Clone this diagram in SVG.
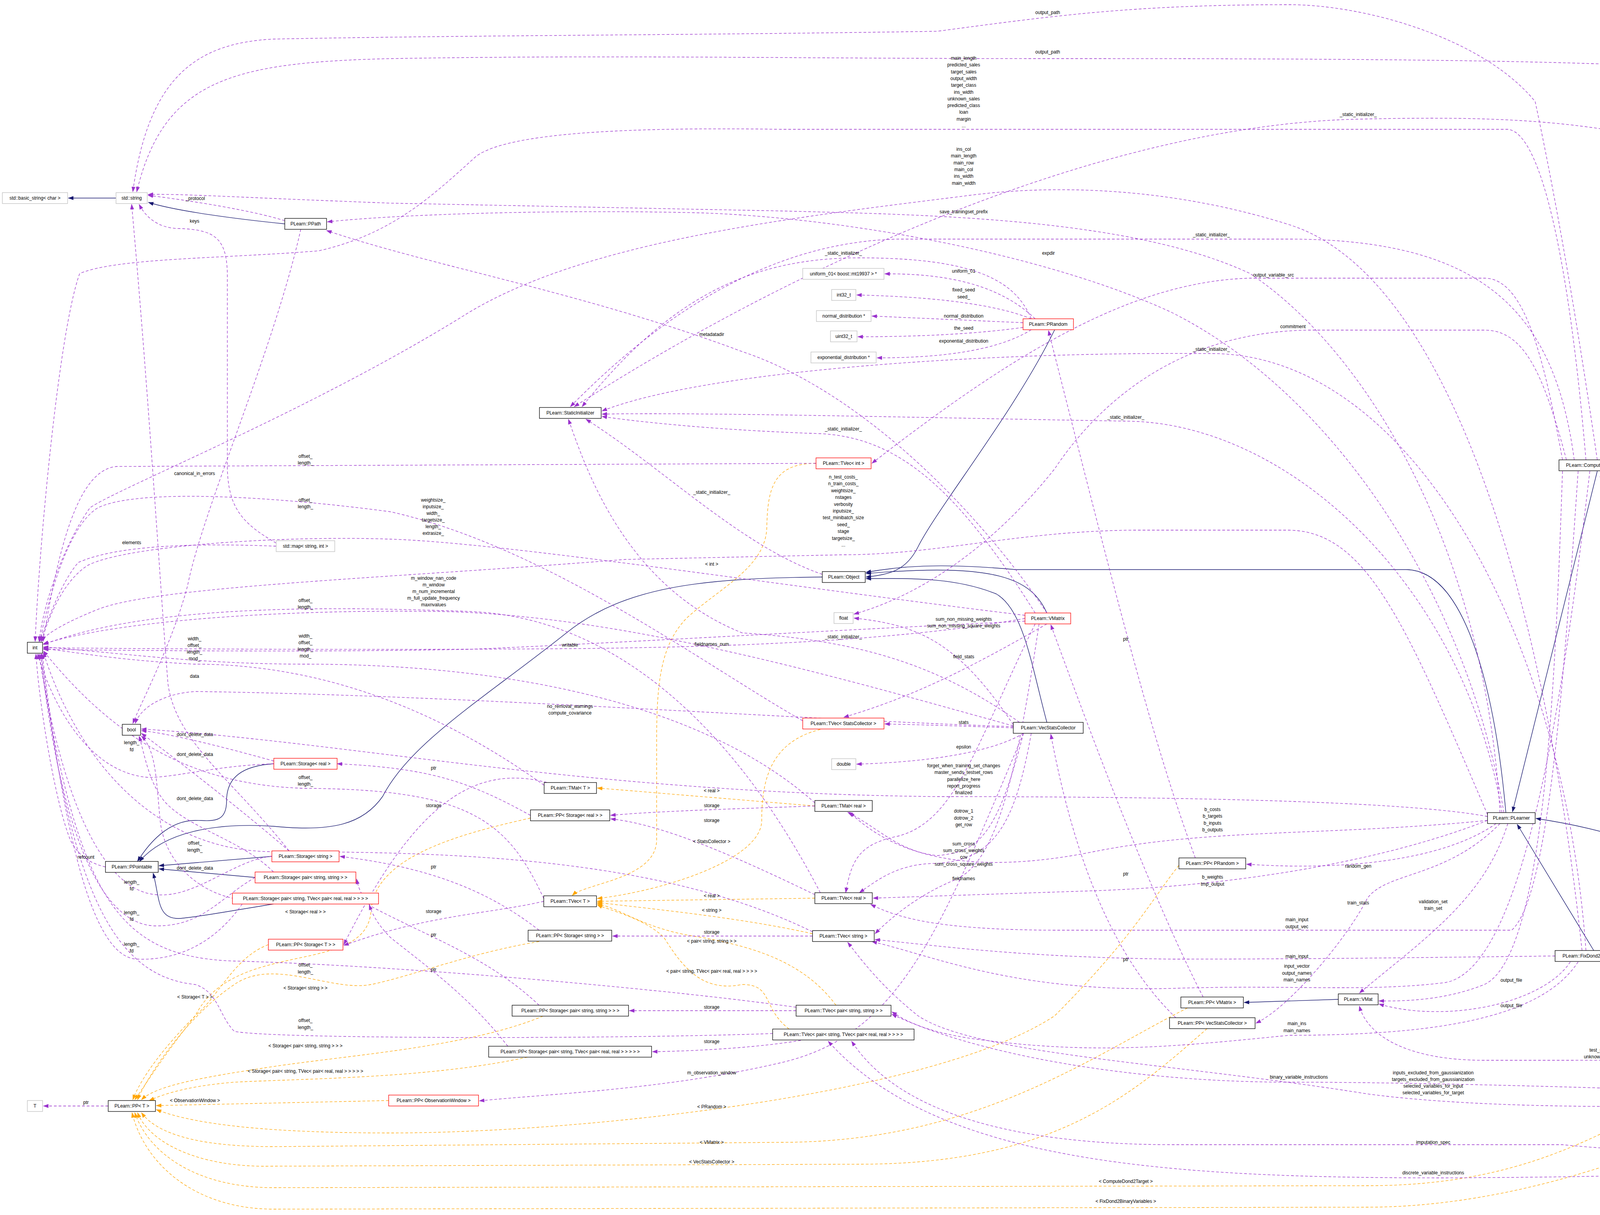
<svg xmlns="http://www.w3.org/2000/svg" width="4928" height="3110" viewBox="0 0 4928 3110">
<style>
text{font-family:"Liberation Sans",Arial,sans-serif;font-size:12px;fill:#000}
.n rect{fill:#fff;stroke:#000;stroke-width:1.3}
.g rect{stroke:#bfbfbf}
.r rect{stroke:#ff0000}
.n text{text-anchor:middle}
.l{text-anchor:middle}
.e{fill:none;stroke:#9a32cd;stroke-width:1.3;stroke-dasharray:7,5;marker-end:url(#ap)}
.i{fill:none;stroke:#191970;stroke-width:1.4;marker-end:url(#an)}
.o{fill:none;stroke:#ffa500;stroke-width:1.3;stroke-dasharray:7,5;marker-end:url(#ao)}
</style>
<defs>
<marker id="ap" markerWidth="14" markerHeight="10" refX="13" refY="5" orient="auto" markerUnits="userSpaceOnUse"><path d="M0,0L14,5L0,10z" fill="#9a32cd"/></marker>
<marker id="an" markerWidth="14" markerHeight="10" refX="13" refY="5" orient="auto" markerUnits="userSpaceOnUse"><path d="M0,0L14,5L0,10z" fill="#191970"/></marker>
<marker id="ao" markerWidth="14" markerHeight="10" refX="13" refY="5" orient="auto" markerUnits="userSpaceOnUse"><path d="M0,0L14,5L0,10z" fill="#ffa500"/></marker>
</defs>
<rect width="4928" height="3110" fill="#fff"/>
<g id="connectors">
<!-- inheritance -->
<path class="i" d="M297,507 L175,507"/>
<path class="i" d="M729,573 C600,560 450,540 380,518"/>
<path class="i" d="M701,1955 C620,1960 580,1990 580,2050 C580,2110 540,2100 500,2100 C430,2100 380,2160 352,2205"/>
<path class="i" d="M2105,1477 C1800,1480 1600,1500 1450,1620 C1250,1780 1050,1900 980,2038 C930,2110 850,2130 700,2115 C550,2105 420,2130 357,2205"/>
<path class="i" d="M696,2192 L407,2216"/>
<path class="i" d="M653,2246 L407,2224"/>
<path class="i" d="M700,2314 C600,2330 520,2345 470,2350 C400,2360 410,2300 392,2235"/>
<path class="i" d="M2700,844 C2600,1050 2400,1300 2350,1400 C2320,1460 2280,1470 2217,1477"/>
<path class="i" d="M2680,1569 C2640,1480 2550,1440 2217,1468"/>
<path class="i" d="M2680,1849 C2640,1700 2620,1560 2550,1520 C2450,1480 2350,1480 2217,1481"/>
<path class="i" d="M3855,2080 C3830,1800 3760,1460 3600,1458 L2600,1458 C2400,1440 2300,1450 2217,1465"/>
<path class="i" d="M4089,1206 L3872,2078"/>
<path class="i" d="M4080,2433 L3884,2110"/>
<path class="i" d="M4835,2794 C4600,2300 4300,2150 3932,2095"/>
<path class="i" d="M3426,2558 L3185,2566"/>
<!-- template instantiation -->
<path class="o" d="M2089,1186 C1980,1186 1965,1250 1963,1350 C1960,1450 1850,1500 1760,1580 C1690,1650 1681,1750 1681,1900 L1681,2150 C1680,2250 1500,2260 1465,2292"/>
<path class="o" d="M2086,2063 L1529,2017"/>
<path class="o" d="M2100,1867 C1970,1900 1950,2000 1950,2100 C1950,2200 1700,2280 1529,2300"/>
<path class="o" d="M2086,2299 L1529,2307"/>
<path class="o" d="M2080,2390 C1900,2350 1700,2330 1529,2310"/>
<path class="o" d="M2140,2573 C2050,2450 1900,2420 1800,2400 C1650,2380 1600,2330 1529,2313"/>
<path class="o" d="M2020,2634 C1950,2580 1980,2520 1900,2520 C1800,2540 1750,2480 1700,2400 C1650,2350 1560,2330 1529,2316"/>
<path class="o" d="M1358,2094 C1150,2140 960,2200 950,2330 C940,2500 600,2400 500,2600 C420,2700 370,2780 345,2815"/>
<path class="o" d="M1380,2410 C1200,2440 1050,2500 950,2520 C850,2540 700,2450 600,2520 C480,2600 380,2750 352,2815"/>
<path class="o" d="M687,2418 C600,2450 560,2550 500,2600 C420,2680 360,2760 340,2815"/>
<path class="o" d="M1390,2601 C1200,2680 900,2700 700,2730 C500,2760 400,2780 362,2815"/>
<path class="o" d="M1350,2706 C1100,2760 800,2760 600,2770 C480,2780 420,2800 382,2817"/>
<path class="o" d="M995,2817 L400,2830"/>
<path class="o" d="M3018,2215 C2950,2300 2900,2400 2700,2600 C2400,2800 1500,2900 1000,2900 C700,2900 500,2880 400,2840"/>
<path class="o" d="M3040,2580 C2800,2700 2500,2924 2000,2924 L700,2935 C500,2935 400,2900 362,2848"/>
<path class="o" d="M3090,2633 C2900,2800 2700,2980 2200,2980 L700,2985 C500,2990 380,2920 352,2848"/>
<path class="o" d="M4310,2794 C4100,2900 3900,3035 3500,3035 L700,3040 C500,3040 380,2950 345,2848"/>
<path class="o" d="M4340,2898 C4100,3000 3800,3090 3500,3090 L700,3095 C500,3095 370,2980 338,2848"/>
<!-- usage -->
<path class="e" d="M277,2831 L111,2831"/>
<path class="e" d="M270,2219 C230,2210 200,2190 180,2150 C140,2050 100,1800 92,1674"/>
<path class="e" d="M701,1955 C550,1960 450,1990 380,1990 C250,1980 150,1850 96,1674"/>
<path class="e" d="M696,2192 C600,2200 500,2300 400,2290 C250,2280 150,2000 100,1674"/>
<path class="e" d="M653,2246 C560,2300 520,2370 400,2370 C250,2370 150,2100 104,1674"/>
<path class="e" d="M620,2314 C560,2400 470,2460 350,2455 C230,2450 160,2100 108,1674"/>
<path class="e" d="M701,1948 C600,1920 450,1880 362,1870"/>
<path class="e" d="M740,2178 C650,2100 500,1980 362,1877"/>
<path class="e" d="M700,2232 C620,2150 480,2120 420,2050 C380,2000 370,1930 356,1884"/>
<path class="e" d="M600,2300 C500,2280 420,2200 410,2100 C400,2000 400,1920 362,1884"/>
<path class="e" d="M770,587 C700,900 520,1300 480,1500 C440,1650 360,1800 340,1852"/>
<path class="e" d="M707,1390 C620,1340 585,1300 582,1200 L582,700 C580,610 550,588 460,585 C400,585 370,550 356,523"/>
<path class="e" d="M707,1398 C500,1390 300,1395 200,1440 C150,1500 120,1600 100,1642"/>
<path class="e" d="M740,2178 C600,2000 450,1900 430,1750 C410,1500 380,1000 337,523"/>
<path class="e" d="M729,565 C650,540 500,515 379,500"/>
<path class="e" d="M2594,1860 C2000,1840 1200,1780 500,1770 C420,1775 360,1810 346,1852"/>
<path class="e" d="M3808,2090 C3600,2050 3000,2039 2400,2039 C1500,2030 900,1900 362,1866"/>
<path class="e" d="M4843,2794 C4800,2000 4650,300 4380,180 C4100,150 3200,150 2682,150 C2000,150 1600,140 1000,150 C600,160 420,200 350,491"/>
<path class="e" d="M4089,1177 C4020,700 3960,400 3930,260 C3800,100 3500,12 3300,12 C2900,12 2700,40 2400,80 C1800,90 1200,90 700,100 C500,110 380,200 340,491"/>
<path class="e" d="M4060,1177 C4020,700 3950,340 3860,331 L2000,331 C1600,325 1300,340 1219,400 C1100,508 1000,600 816,642 C571,662 300,660 204,700 C150,850 100,1400 90,1642"/>
<path class="e" d="M4050,2433 C3950,1500 3700,700 3300,575 C3000,480 2700,470 2467,502 C2000,560 1500,620 1200,800 C800,1050 300,1250 230,1300 C160,1400 110,1550 100,1642"/>
<path class="e" d="M3840,2080 C3800,1400 3500,900 3200,700 C2900,560 2400,550 2000,540 L1000,520 C600,505 450,495 379,498"/>
<path class="e" d="M3850,2080 C3750,1500 3400,1000 3000,800 C2700,660 2200,560 1800,545 C1400,535 1000,550 838,568"/>
<path class="e" d="M2680,1569 C2500,1300 2200,1000 1900,900 C1500,750 1100,680 836,590"/>
<path class="e" d="M2105,1470 C1900,1400 1700,1200 1500,1073"/>
<path class="e" d="M2640,816 C2600,720 2500,660 2200,660 C1900,660 1700,780 1490,1041"/>
<path class="e" d="M4830,2794 C4800,2000 4600,600 4100,330 C3900,300 3700,300 3477,305 C2800,320 2000,700 1470,1041"/>
<path class="e" d="M4030,1177 C3980,800 3800,612 3300,612 L2300,612 C1900,620 1600,900 1460,1041"/>
<path class="e" d="M4060,2433 C4000,1600 3600,905 3101,905 C2500,900 1800,950 1541,1052"/>
<path class="e" d="M3845,2080 C3750,1500 3300,1080 2882,1078 C2400,1070 1800,1055 1541,1060"/>
<path class="e" d="M2650,1569 C2450,1250 2300,1120 2100,1110 C1800,1100 1600,1075 1541,1066"/>
<path class="e" d="M2610,1849 C2400,1700 2200,1640 1900,1620 C1600,1500 1500,1200 1455,1073"/>
<path class="e" d="M2089,1186 L300,1194 C200,1200 150,1400 110,1642"/>
<path class="e" d="M2055,1845 C1800,1700 1400,1400 1000,1310 C700,1270 350,1250 250,1300 C170,1350 120,1550 102,1642"/>
<path class="e" d="M2100,2285 C1900,1900 1600,1580 1200,1565 C900,1555 400,1540 111,1650"/>
<path class="e" d="M1393,2010 C1100,1800 800,1700 498,1700 C300,1690 200,1670 111,1660"/>
<path class="e" d="M2086,2055 C1800,1800 1300,1700 782,1700 C500,1700 300,1670 111,1656"/>
<path class="e" d="M1392,2300 C1300,2100 1200,2020 782,2018 C500,2010 300,1900 111,1666"/>
<path class="e" d="M2080,2385 C1700,2200 1200,2180 700,2180 C400,2180 200,1950 111,1670"/>
<path class="e" d="M2050,2580 C1700,2530 1000,2470 600,2460 C300,2450 200,2300 100,1674"/>
<path class="e" d="M1990,2645 C1600,2660 700,2660 600,2640 C560,2600 560,2540 500,2520 C300,2500 180,2300 106,1674"/>
<path class="e" d="M2624,1575 C2000,1500 1300,1390 1000,1380 C700,1370 300,1400 220,1450 C150,1500 120,1600 105,1642"/>
<path class="e" d="M2594,1858 C2200,1750 1600,1570 1110,1565 C700,1560 300,1590 111,1648"/>
<path class="e" d="M2624,1583 C2300,1640 1900,1655 1500,1660 C900,1665 300,1660 111,1658"/>
<path class="e" d="M2624,1590 C2000,1620 1500,1650 1200,1662 C800,1670 300,1665 111,1662"/>
<path class="e" d="M3808,2085 C3600,1600 3500,1360 3300,1357 L2900,1357 C2600,1360 2400,1420 2159,1420 L1600,1432 C1000,1480 400,1500 250,1560 C150,1600 110,1630 106,1642"/>
<path class="e" d="M1358,2087 C1200,2000 1100,1966 863,1955"/>
<path class="e" d="M1380,2381 C1250,2280 1100,2220 870,2192"/>
<path class="e" d="M1380,2573 C1250,2450 1100,2400 950,2320 C920,2290 915,2260 913,2250"/>
<path class="e" d="M1300,2678 C1200,2550 1100,2480 1000,2400 C960,2360 950,2330 945,2316"/>
<path class="e" d="M1400,2003 C1200,1950 1050,2080 880,2418"/>
<path class="e" d="M1392,2307 C1250,2340 1100,2340 880,2420"/>
<path class="e" d="M2086,2063 C1900,2070 1700,2075 1563,2087"/>
<path class="e" d="M2086,2290 C1900,2200 1700,2110 1563,2096"/>
<path class="e" d="M2080,2396 L1568,2396"/>
<path class="e" d="M2038,2587 L1611,2587"/>
<path class="e" d="M2050,2663 C1950,2680 1800,2690 1670,2692"/>
<path class="e" d="M2680,1597 C2500,1700 2350,1780 2160,1836"/>
<path class="e" d="M2594,1863 C2450,1858 2350,1855 2265,1853"/>
<path class="e" d="M2620,1877 C2550,1920 2400,1950 2193,1956"/>
<path class="e" d="M2594,1855 C2450,1640 2350,1600 2186,1582"/>
<path class="e" d="M4010,1177 C3950,950 3900,845 3800,845 L3350,845 C3000,850 2800,1050 2700,1200 C2500,1450 2300,1540 2186,1572"/>
<path class="e" d="M2650,1597 C2500,1900 2450,2100 2300,2140 C2200,2160 2180,2200 2165,2285"/>
<path class="e" d="M2620,1877 C2550,2150 2500,2180 2400,2190 C2300,2180 2250,2120 2170,2079"/>
<path class="e" d="M2640,1877 C2600,2100 2550,2200 2400,2210 C2300,2210 2250,2250 2200,2285"/>
<path class="e" d="M2660,1597 C2600,2000 2550,2200 2450,2250 C2350,2290 2280,2350 2240,2390"/>
<path class="e" d="M3808,2100 C3400,2140 3100,2120 2800,2180 C2500,2240 2300,2200 2175,2079"/>
<path class="e" d="M3808,2100 C3500,2220 3100,2270 2800,2280 L2235,2299"/>
<path class="e" d="M3830,2108 C3700,2200 3450,2230 3191,2212"/>
<path class="e" d="M3840,2108 C3700,2250 3550,2230 3500,2300 C3450,2400 3300,2580 3215,2619"/>
<path class="e" d="M3860,2108 C3800,2300 3650,2400 3480,2542"/>
<path class="e" d="M4040,1206 C4000,1800 3960,2300 3870,2381 L2700,2381 C2400,2380 2300,2350 2229,2315"/>
<path class="e" d="M3981,2447 C3700,2450 3400,2455 3000,2455 C2600,2450 2400,2420 2240,2405"/>
<path class="e" d="M4070,1206 C4000,1800 3900,2480 3700,2515 C3500,2540 3300,2520 3000,2530 C2600,2540 2400,2450 2232,2410"/>
<path class="e" d="M4000,1206 C3980,1800 3950,2450 3800,2520 C3700,2560 3600,2563 3530,2562"/>
<path class="e" d="M4020,2462 C3950,2570 3700,2620 3530,2570"/>
<path class="e" d="M4040,2462 C3950,2600 3700,2650 3300,2650 C3000,2680 2800,2700 2500,2660 C2350,2640 2300,2600 2283,2590"/>
<path class="e" d="M4810,2794 C4600,2700 4400,2714 4000,2714 L3800,2714 C3600,2714 3500,2650 3480,2575"/>
<path class="e" d="M4767,2815 C4300,2840 3800,2840 3500,2800 C3000,2720 2500,2700 2350,2600 C2250,2520 2200,2450 2170,2412"/>
<path class="e" d="M4767,2808 C4300,2790 3700,2770 3300,2770 C2900,2770 2500,2700 2283,2596"/>
<path class="e" d="M4810,2822 C4600,2950 4300,2960 4000,2930 L3000,2930 C2600,2930 2300,2850 2180,2665"/>
<path class="e" d="M4840,2822 C4750,3000 4500,3010 3700,3015 C3000,3015 2400,2980 2120,2665"/>
<path class="e" d="M4767,2800 L4517,2782"/>
<path class="e" d="M4800,2822 C4720,2880 4650,2885 4527,2883"/>
<path class="e" d="M4370,2766 L4098,1208"/>
<path class="e" d="M4340,2869 C4250,2800 4200,2650 4100,2464"/>
<path class="e" d="M3060,2196 C2950,1900 2850,1500 2684,846"/>
<path class="e" d="M3080,2552 C2950,2300 2800,1900 2690,1599"/>
<path class="e" d="M3010,2605 C2850,2450 2750,2200 2690,1879"/>
<path class="e" d="M2620,1877 C2400,2400 2300,2650 2000,2720 C1700,2790 1400,2800 1227,2818"/>
<path class="e" d="M2650,816 C2550,720 2400,700 2265,701"/>
<path class="e" d="M2640,816 C2550,780 2400,760 2193,755"/>
<path class="e" d="M2619,826 L2232,809"/>
<path class="e" d="M2619,838 C2500,855 2350,862 2196,862"/>
<path class="e" d="M2640,844 C2550,900 2400,916 2245,916"/>
<path class="e" d="M4000,1177 C3950,900 3900,712 3800,712 L3200,712 C2900,720 2600,900 2232,1186"/>
</g>
<g id="labels">
<text class="l" x="500" y="512">_protocol</text>
<text class="l" x="498" y="570">keys</text>
<text class="l" x="498" y="1216">canonical_in_errors</text>
<text class="l" x="782" y="1172">offset_<tspan x="782" dy="17">length_</tspan></text>
<text class="l" x="782" y="1284">offset_<tspan x="782" dy="17">length_</tspan></text>
<text class="l" x="1109" y="1284">weightsize_<tspan x="1109" dy="17">inputsize_</tspan><tspan x="1109" dy="17">width_</tspan><tspan x="1109" dy="17">targetsize_</tspan><tspan x="1109" dy="17">length_</tspan><tspan x="1109" dy="17">extrasize_</tspan></text>
<text class="l" x="337" y="1393">elements</text>
<text class="l" x="1110" y="1484">m_window_nan_code<tspan x="1110" dy="17">m_window</tspan><tspan x="1110" dy="17">m_num_incremental</tspan><tspan x="1110" dy="17">m_full_update_frequency</tspan><tspan x="1110" dy="17">maxnvalues</tspan></text>
<text class="l" x="782" y="1541">offset_<tspan x="782" dy="17">length_</tspan></text>
<text class="l" x="1459" y="1655">writable</text>
<text class="l" x="498" y="1639">width_<tspan x="498" dy="17">offset_</tspan><tspan x="498" dy="17">length_</tspan><tspan x="498" dy="17">mod_</tspan></text>
<text class="l" x="782" y="1632">width_<tspan x="782" dy="17">offset_</tspan><tspan x="782" dy="17">length_</tspan><tspan x="782" dy="17">mod_</tspan></text>
<text class="l" x="498" y="1735">data</text>
<text class="l" x="1459" y="1812">no_removal_warnings<tspan x="1459" dy="17">compute_covariance</tspan></text>
<text class="l" x="499" y="1884">dont_delete_data</text>
<text class="l" x="337" y="1905">length_<tspan x="337" dy="18">fd</tspan></text>
<text class="l" x="499" y="1935">dont_delete_data</text>
<text class="l" x="1110" y="1970">ptr</text>
<text class="l" x="782" y="1994">offset_<tspan x="782" dy="17">length_</tspan></text>
<text class="l" x="499" y="2048">dont_delete_data</text>
<text class="l" x="1110" y="2066">storage</text>
<text class="l" x="499" y="2162">offset_<tspan x="499" dy="18">length_</tspan></text>
<text class="l" x="220" y="2198">refcount</text>
<text class="l" x="1110" y="2223">ptr</text>
<text class="l" x="499" y="2226">dont_delete_data</text>
<text class="l" x="337" y="2262">length_<tspan x="337" dy="17">fd</tspan></text>
<text class="l" x="782" y="2338">&lt; Storage&lt; real &gt; &gt;</text>
<text class="l" x="1110" y="2337">storage</text>
<text class="l" x="337" y="2340">length_<tspan x="337" dy="17">fd</tspan></text>
<text class="l" x="1110" y="2397">ptr</text>
<text class="l" x="337" y="2421">length_<tspan x="337" dy="17">fd</tspan></text>
<text class="l" x="782" y="2474">offset_<tspan x="782" dy="18">length_</tspan></text>
<text class="l" x="1110" y="2486">ptr</text>
<text class="l" x="782" y="2533">&lt; Storage&lt; string &gt; &gt;</text>
<text class="l" x="499" y="2556">&lt; Storage&lt; T &gt; &gt;</text>
<text class="l" x="782" y="2616">offset_<tspan x="782" dy="18">length_</tspan></text>
<text class="l" x="782" y="2681">&lt; Storage&lt; pair&lt; string, string &gt; &gt; &gt;</text>
<text class="l" x="782" y="2746">&lt; Storage&lt; pair&lt; string, TVec&lt; pair&lt; real, real &gt; &gt; &gt; &gt; &gt;</text>
<text class="l" x="499" y="2821">&lt; ObservationWindow &gt;</text>
<text class="l" x="220" y="2826">ptr</text>
<text class="l" x="2682" y="36">output_path</text>
<text class="l" x="2682" y="137">output_path</text>
<text class="l" x="2467" y="153">main_length<tspan x="2467" dy="17.3">predicted_sales</tspan><tspan x="2467" dy="17.3">target_sales</tspan><tspan x="2467" dy="17.3">output_width</tspan><tspan x="2467" dy="17.3">target_class</tspan><tspan x="2467" dy="17.3">ins_width</tspan><tspan x="2467" dy="17.3">unknown_sales</tspan><tspan x="2467" dy="17.3">predicted_class</tspan><tspan x="2467" dy="17.3">loan</tspan><tspan x="2467" dy="17.3">margin</tspan><tspan x="2467" dy="17.3">...</tspan></text>
<text class="l" x="2467" y="386">ins_col<tspan x="2467" dy="17.3">main_length</tspan><tspan x="2467" dy="17.3">main_row</tspan><tspan x="2467" dy="17.3">main_col</tspan><tspan x="2467" dy="17.3">ins_width</tspan><tspan x="2467" dy="17.3">main_width</tspan></text>
<text class="l" x="2467" y="546">save_trainingset_prefix</text>
<text class="l" x="3477" y="297">_static_initializer_</text>
<text class="l" x="3101" y="605">_static_initializer_</text>
<text class="l" x="2684" y="652">expdir</text>
<text class="l" x="2159" y="652">_static_initializer_</text>
<text class="l" x="3260" y="708">output_variable_src</text>
<text class="l" x="2467" y="698">uniform_01</text>
<text class="l" x="2467" y="746">fixed_seed<tspan x="2467" dy="18">seed_</tspan></text>
<text class="l" x="2467" y="813">normal_distribution</text>
<text class="l" x="3310" y="840">commitment</text>
<text class="l" x="2467" y="844">the_seed</text>
<text class="l" x="1822" y="860">metadatadir</text>
<text class="l" x="2467" y="877">exponential_distribution</text>
<text class="l" x="3101" y="898">_static_initializer_</text>
<text class="l" x="2882" y="1072">_static_initializer_</text>
<text class="l" x="2159" y="1102">_static_initializer_</text>
<text class="l" x="2159" y="1225">n_test_costs_<tspan x="2159" dy="17.4">n_train_costs_</tspan><tspan x="2159" dy="17.4">weightsize_</tspan><tspan x="2159" dy="17.4">nstages</tspan><tspan x="2159" dy="17.4">verbosity</tspan><tspan x="2159" dy="17.4">inputsize_</tspan><tspan x="2159" dy="17.4">test_minibatch_size</tspan><tspan x="2159" dy="17.4">seed_</tspan><tspan x="2159" dy="17.4">stage</tspan><tspan x="2159" dy="17.4">targetsize_</tspan><tspan x="2159" dy="17.4">...</tspan></text>
<text class="l" x="1822" y="1264">_static_initializer_</text>
<text class="l" x="1822" y="1448">&lt; int &gt;</text>
<text class="l" x="2467" y="1589">sum_non_missing_weights<tspan x="2467" dy="17">sum_non_missing_square_weights</tspan></text>
<text class="l" x="2159" y="1634">_static_initializer_</text>
<text class="l" x="2882" y="1640">ptr</text>
<text class="l" x="1822" y="1653">fieldnames_num</text>
<text class="l" x="2467" y="1685">field_stats</text>
<text class="l" x="2467" y="1853">stats</text>
<text class="l" x="4229" y="1885">ptr</text>
<text class="l" x="2467" y="1916">epsilon</text>
<text class="l" x="2467" y="1964">forget_when_training_set_changes<tspan x="2467" dy="17.3">master_sends_testset_rows</tspan><tspan x="2467" dy="17.3">parallelize_here</tspan><tspan x="2467" dy="17.3">report_progress</tspan><tspan x="2467" dy="17.3">finalized</tspan></text>
<text class="l" x="1822" y="2028">&lt; real &gt;</text>
<text class="l" x="1822" y="2066">storage</text>
<text class="l" x="3104" y="2076">b_costs<tspan x="3104" dy="17.3">b_targets</tspan><tspan x="3104" dy="17.3">b_inputs</tspan><tspan x="3104" dy="17.3">b_outputs</tspan></text>
<text class="l" x="2467" y="2080">dotrow_1<tspan x="2467" dy="17.5">dotrow_2</tspan><tspan x="2467" dy="17.5">get_row</tspan></text>
<text class="l" x="1822" y="2104">storage</text>
<text class="l" x="1822" y="2158">&lt; StatsCollector &gt;</text>
<text class="l" x="2467" y="2164">sum_cross<tspan x="2467" dy="17">sum_cross_weights</tspan><tspan x="2467" dy="17">cov</tspan></text>
<text class="l" x="2467" y="2216">sum_cross_square_weights</text>
<text class="l" x="3477" y="2221">random_gen</text>
<text class="l" x="2882" y="2241">ptr</text>
<text class="l" x="3104" y="2249">b_weights<tspan x="3104" dy="18">tmp_output</tspan></text>
<text class="l" x="2467" y="2253">fieldnames</text>
<text class="l" x="1822" y="2297">&lt; real &gt;</text>
<text class="l" x="3477" y="2315">train_stats</text>
<text class="l" x="3669" y="2312">validation_set<tspan x="3669" dy="17">train_set</tspan></text>
<text class="l" x="1822" y="2334">&lt; string &gt;</text>
<text class="l" x="3320" y="2358">main_input<tspan x="3320" dy="18">output_vec</tspan></text>
<text class="l" x="1822" y="2390">storage</text>
<text class="l" x="1822" y="2413">&lt; pair&lt; string, string &gt; &gt;</text>
<text class="l" x="3320" y="2452">main_input</text>
<text class="l" x="2882" y="2460">ptr</text>
<text class="l" x="3320" y="2477">input_vector<tspan x="3320" dy="17.5">output_names</tspan><tspan x="3320" dy="17.5">main_names</tspan></text>
<text class="l" x="1822" y="2490">&lt; pair&lt; string, TVec&lt; pair&lt; real, real &gt; &gt; &gt; &gt;</text>
<text class="l" x="3869" y="2513">output_file</text>
<text class="l" x="3869" y="2578">output_file</text>
<text class="l" x="1822" y="2582">storage</text>
<text class="l" x="3320" y="2624">main_ins<tspan x="3320" dy="18">main_names</tspan></text>
<text class="l" x="1822" y="2670">storage</text>
<text class="l" x="4090" y="2692">test_set<tspan x="4090" dy="17">unknown_set</tspan></text>
<text class="l" x="4229" y="2725">ptr</text>
<text class="l" x="1822" y="2750">m_observation_window</text>
<text class="l" x="3669" y="2750">inputs_excluded_from_gaussianization<tspan x="3669" dy="17">targets_excluded_from_gaussianization</tspan><tspan x="3669" dy="17">selected_variables_for_input</tspan><tspan x="3669" dy="17">selected_variables_for_target</tspan></text>
<text class="l" x="3325" y="2761">binary_variable_instructions</text>
<text class="l" x="4647" y="2784">compute_target_learner_template</text>
<text class="l" x="1822" y="2837">&lt; PRandom &gt;</text>
<text class="l" x="4647" y="2862">fix_binary_variables_template</text>
<text class="l" x="1822" y="2928">&lt; VMatrix &gt;</text>
<text class="l" x="3669" y="2928">imputation_spec</text>
<text class="l" x="1822" y="2978">&lt; VecStatsCollector &gt;</text>
<text class="l" x="3669" y="3006">discrete_variable_instructions</text>
<text class="l" x="2882" y="3028">&lt; ComputeDond2Target &gt;</text>
<text class="l" x="2882" y="3079">&lt; FixDond2BinaryVariables &gt;</text>
</g>
<g id="n1" class="n g"><rect x="6" y="493" width="167" height="28"/><text x="89.5" y="511">std::basic_string&lt; char &gt;</text></g>
<g id="n2" class="n g"><rect x="297" y="493" width="80" height="28"/><text x="337" y="511">std::string</text></g>
<g id="n3" class="n"><rect x="729" y="559" width="107" height="28"/><text x="782.5" y="577">PLearn::PPath</text></g>
<g id="n4" class="n"><rect x="1381" y="1043" width="158" height="28"/><text x="1460" y="1061">PLearn::StaticInitializer</text></g>
<g id="n5" class="n g"><rect x="707" y="1384" width="150" height="28"/><text x="782" y="1402">std::map&lt; string, int &gt;</text></g>
<g id="n6" class="n"><rect x="70" y="1644" width="39" height="28"/><text x="89.5" y="1662">int</text></g>
<g id="n7" class="n"><rect x="313" y="1854" width="47" height="28"/><text x="336.5" y="1872">bool</text></g>
<g id="n8" class="n r"><rect x="701" y="1941" width="162" height="28"/><text x="782" y="1959">PLearn::Storage&lt; real &gt;</text></g>
<g id="n9" class="n"><rect x="1393" y="2003" width="134" height="28"/><text x="1460" y="2021">PLearn::TMat&lt; T &gt;</text></g>
<g id="n10" class="n"><rect x="1358" y="2073" width="203" height="28"/><text x="1459.5" y="2091">PLearn::PP&lt; Storage&lt; real &gt; &gt;</text></g>
<g id="n11" class="n r"><rect x="696" y="2178" width="172" height="28"/><text x="782" y="2196">PLearn::Storage&lt; string &gt;</text></g>
<g id="n12" class="n"><rect x="270" y="2205" width="135" height="28"/><text x="337.5" y="2223">PLearn::PPointable</text></g>
<g id="n13" class="n r"><rect x="653" y="2232" width="258" height="28"/><text x="782" y="2250">PLearn::Storage&lt; pair&lt; string, string &gt; &gt;</text></g>
<g id="n14" class="n r"><rect x="595" y="2286" width="374" height="28"/><text x="782" y="2304">PLearn::Storage&lt; pair&lt; string, TVec&lt; pair&lt; real, real &gt; &gt; &gt; &gt;</text></g>
<g id="n15" class="n"><rect x="1392" y="2293" width="135" height="28"/><text x="1459.5" y="2311">PLearn::TVec&lt; T &gt;</text></g>
<g id="n16" class="n"><rect x="1352" y="2381" width="214" height="28"/><text x="1459" y="2399">PLearn::PP&lt; Storage&lt; string &gt; &gt;</text></g>
<g id="n17" class="n r"><rect x="687" y="2404" width="191" height="28"/><text x="782.5" y="2422">PLearn::PP&lt; Storage&lt; T &gt; &gt;</text></g>
<g id="n18" class="n"><rect x="1311" y="2573" width="298" height="28"/><text x="1460" y="2591">PLearn::PP&lt; Storage&lt; pair&lt; string, string &gt; &gt; &gt;</text></g>
<g id="n19" class="n"><rect x="1251" y="2678" width="417" height="28"/><text x="1459.5" y="2696">PLearn::PP&lt; Storage&lt; pair&lt; string, TVec&lt; pair&lt; real, real &gt; &gt; &gt; &gt; &gt;</text></g>
<g id="n20" class="n r"><rect x="995" y="2803" width="230" height="28"/><text x="1110" y="2821">PLearn::PP&lt; ObservationWindow &gt;</text></g>
<g id="n21" class="n g"><rect x="70" y="2817" width="39" height="28"/><text x="89.5" y="2835">T</text></g>
<g id="n22" class="n"><rect x="277" y="2817" width="121" height="28"/><text x="337.5" y="2835">PLearn::PP&lt; T &gt;</text></g>
<g id="n23" class="n g"><rect x="2055" y="687" width="208" height="28"/><text x="2159" y="705">uniform_01&lt; boost::mt19937 &gt; *</text></g>
<g id="n24" class="n g"><rect x="2129" y="741" width="62" height="28"/><text x="2160" y="759">int32_t</text></g>
<g id="n25" class="n g"><rect x="2090" y="795" width="140" height="28"/><text x="2160" y="813">normal_distribution *</text></g>
<g id="n26" class="n g"><rect x="2126" y="847" width="68" height="28"/><text x="2160" y="865">uint32_t</text></g>
<g id="n27" class="n g"><rect x="2076" y="901" width="167" height="28"/><text x="2159.5" y="919">exponential_distribution *</text></g>
<g id="n28" class="n r"><rect x="2619" y="816" width="129" height="28"/><text x="2683.5" y="834">PLearn::PRandom</text></g>
<g id="n29" class="n r"><rect x="2089" y="1172" width="141" height="28"/><text x="2159.5" y="1190">PLearn::TVec&lt; int &gt;</text></g>
<g id="n30" class="n"><rect x="2105" y="1463" width="110" height="28"/><text x="2160" y="1481">PLearn::Object</text></g>
<g id="n31" class="n g"><rect x="2135" y="1568" width="49" height="28"/><text x="2159.5" y="1586">float</text></g>
<g id="n32" class="n r"><rect x="2624" y="1569" width="117" height="28"/><text x="2682.5" y="1587">PLearn::VMatrix</text></g>
<g id="n33" class="n r"><rect x="2055" y="1838" width="208" height="28"/><text x="2159" y="1856">PLearn::TVec&lt; StatsCollector &gt;</text></g>
<g id="n34" class="n"><rect x="2594" y="1849" width="179" height="28"/><text x="2683.5" y="1867">PLearn::VecStatsCollector</text></g>
<g id="n35" class="n g"><rect x="2129" y="1942" width="62" height="28"/><text x="2160" y="1960">double</text></g>
<g id="n36" class="n"><rect x="2086" y="2049" width="147" height="28"/><text x="2159.5" y="2067">PLearn::TMat&lt; real &gt;</text></g>
<g id="n37" class="n"><rect x="3018" y="2196" width="171" height="28"/><text x="3103.5" y="2214">PLearn::PP&lt; PRandom &gt;</text></g>
<g id="n38" class="n"><rect x="2086" y="2285" width="147" height="28"/><text x="2159.5" y="2303">PLearn::TVec&lt; real &gt;</text></g>
<g id="n39" class="n"><rect x="2080" y="2382" width="158" height="28"/><text x="2159" y="2400">PLearn::TVec&lt; string &gt;</text></g>
<g id="n40" class="n"><rect x="3023" y="2552" width="160" height="28"/><text x="3103" y="2570">PLearn::PP&lt; VMatrix &gt;</text></g>
<g id="n41" class="n"><rect x="2038" y="2573" width="243" height="28"/><text x="2159.5" y="2591">PLearn::TVec&lt; pair&lt; string, string &gt; &gt;</text></g>
<g id="n42" class="n"><rect x="2994" y="2605" width="219" height="28"/><text x="3103.5" y="2623">PLearn::PP&lt; VecStatsCollector &gt;</text></g>
<g id="n43" class="n"><rect x="1978" y="2634" width="362" height="28"/><text x="2159" y="2652">PLearn::TVec&lt; pair&lt; string, TVec&lt; pair&lt; real, real &gt; &gt; &gt; &gt;</text></g>
<g id="n44" class="n"><rect x="3991" y="1177" width="199" height="28"/><text x="4090.5" y="1195">PLearn::ComputeDond2Target</text></g>
<g id="n45" class="n"><rect x="3808" y="2080" width="122" height="28"/><text x="3869" y="2098">PLearn::PLearner</text></g>
<g id="n46" class="n"><rect x="3981" y="2433" width="218" height="28"/><text x="4090" y="2451">PLearn::FixDond2BinaryVariables</text></g>
<g id="n47" class="n"><rect x="3426" y="2544" width="102" height="28"/><text x="3477" y="2562">PLearn::VMat</text></g>
<g id="n48" class="n"><rect x="4274" y="2766" width="241" height="28"/><text x="4394.5" y="2784">PLearn::PP&lt; ComputeDond2Target &gt;</text></g>
<g id="n49" class="n"><rect x="4767" y="2794" width="155" height="28" style="fill:#bfbfbf"/><text x="4844.5" y="2812">PLearn::Preprocessing</text></g>
<g id="n50" class="n"><rect x="4265" y="2869" width="260" height="28"/><text x="4395" y="2887">PLearn::PP&lt; FixDond2BinaryVariables &gt;</text></g>
</svg>
